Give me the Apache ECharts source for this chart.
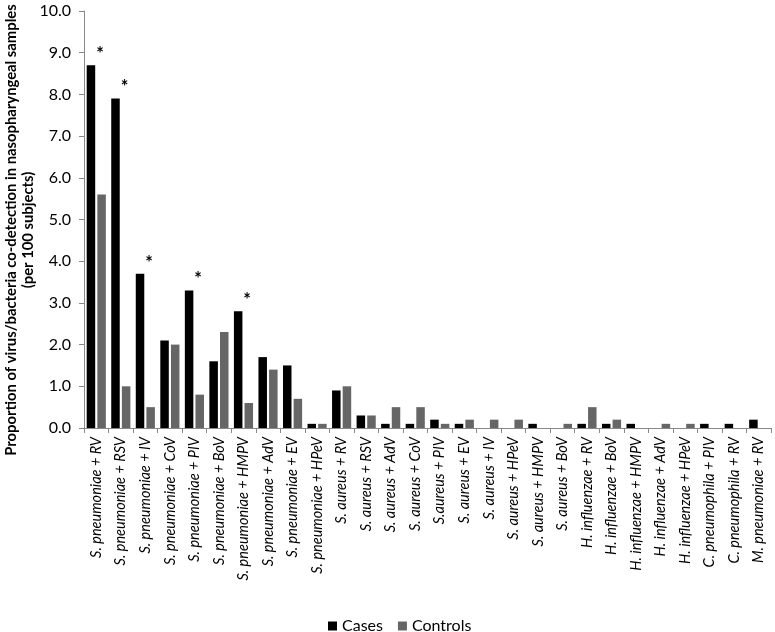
<!DOCTYPE html>
<html><head><meta charset="utf-8">
<script src="https://cdn.jsdelivr.net/npm/echarts@6/dist/echarts.min.js"></script>
<style>html,body{margin:0;padding:0;background:#fff}#c{width:775px;height:632px}</style>
</head><body><div id="c"></div>
<script>
const categories = [
  "S. pneumoniae + RV","S. pneumoniae + RSV","S. pneumoniae + IV","S. pneumoniae + CoV",
  "S. pneumoniae + PIV","S. pneumoniae + BoV","S. pneumoniae + HMPV","S. pneumoniae + AdV",
  "S. pneumoniae + EV","S. pneumoniae + HPeV",
  "S. aureus + RV","S. aureus + RSV","S. aureus + AdV","S. aureus + CoV","S.aureus + PIV",
  "S. aureus + EV","S. aureus + IV","S. aureus + HPeV","S. aureus + HMPV","S. aureus + BoV",
  "H. influenzae + RV","H. influenzae + BoV","H. influenzae + HMPV","H. influenzae + AdV",
  "H. influenzae + HPeV","C. pneumophila + PIV","C. pneumophila + RV","M. pneumoniae + RV"
];
const cases    = [8.7,7.9,3.7,2.1,3.3,1.6,2.8,1.7,1.5,0.1, 0.9,0.3,0.1,0.1,0.2,0.1,0,0,0.1,0, 0.1,0.1,0.1,0,0,0.1,0.1,0.2];
const controls = [5.6,1.0,0.5,2.0,0.8,2.3,0.6,1.4,0.7,0.1, 1.0,0.3,0.5,0.5,0.1,0.2,0.2,0.2,0,0.1, 0.5,0.2,0,0.1,0.1,0,0,0];
const significant = [1,1,1,0,1,0,1,0,0,0, 0,0,0,0,0,0,0,0,0,0, 0,0,0,0,0,0,0,0];
const yTicks = [0,1,2,3,4,5,6,7,8,9,10];
const yTitle = 'Proportion of virus/bacteria co-detection in nasopharyngeal samples\n(per 100 subjects)';

const chart = echarts.init(document.getElementById('c'));
const font = 'Lato, "Open Sans", sans-serif';
chart.setOption({
  animation: false,
  grid: {left: 84, right: 4, top: 11, bottom: 204, containLabel: false, outerBoundsMode: 'none'},
  graphic: [{
    type: 'text', x: 19.5, y: 230, rotation: Math.PI / 2,
    style: {text: yTitle, align: 'center', verticalAlign: 'middle', fontFamily: font, fontWeight: 'bold', fontSize: 14.8, lineHeight: 17, fill: '#000'}
  }],
  legend: {
    top: 613, left: 323, itemWidth: 9, itemHeight: 9, itemGap: 15,
    icon: 'rect',
    textStyle: {fontFamily: font, fontSize: 16, color: '#000'},
    data: ['Cases','Controls']
  },
  xAxis: {
    type: 'category', data: categories,
    axisLine: {lineStyle: {color: '#888'}},
    axisTick: {show: true, length: 5, lineStyle: {color: '#888'}},
    axisLabel: {rotate: 90, interval: 0, margin: 9, fontFamily: font, fontStyle: 'italic', fontSize: 14.5, color: '#000'}
  },
  yAxis: {
    type: 'value', min: yTicks[0], max: yTicks[yTicks.length-1], interval: 1,
    axisLine: {show: true, lineStyle: {color: '#888'}},
    axisTick: {show: true, inside: false, length: 5, lineStyle: {color: '#888'}},
    splitLine: {show: false},
    axisLabel: {margin: 13, fontFamily: font, fontSize: 16, color: '#000', formatter: v => v.toFixed(1)}
  },
  series: [
    {
      name: 'Cases', type: 'bar', data: cases, barGap: '25%', barCategoryGap: '22%',
      itemStyle: {color: '#000'},
      label: {show: true, position: 'top', offset: [9, 3], fontFamily: font, fontWeight: 'bold', fontSize: 18, color: '#000',
        formatter: p => significant[p.dataIndex] ? '*' : ''}
    },
    {
      name: 'Controls', type: 'bar', data: controls,
      itemStyle: {color: '#666666'}
    }
  ]
});
</script></body></html>
